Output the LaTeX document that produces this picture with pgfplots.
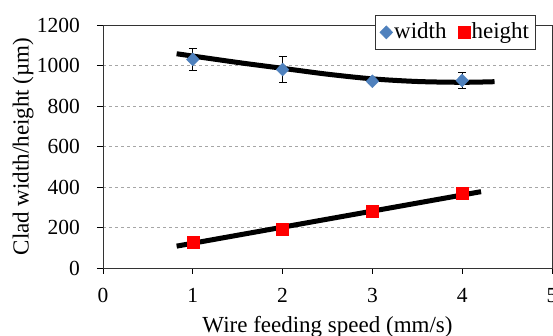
\documentclass[border=0pt]{standalone}
\usepackage{fontspec}
\setmainfont{Liberation Serif}
\usepackage{pgfplots}
\pgfplotsset{compat=1.18}
\definecolor{wblue}{RGB}{79,129,189}
\newcommand{\lf}{\fontsize{23pt}{27pt}\selectfont}
\pgfplotsset{mylegend/.style={legend image code/.code={\draw[##1] plot coordinates {(0pt,0pt)};}}}
\begin{document}
\fontsize{21pt}{25pt}\selectfont
\begin{tikzpicture}
\begin{axis}[name=ax,
  scale only axis, width=449pt, height=243pt,
  xmin=0, xmax=5, ymin=0, ymax=1200,
  xtick={0,1,2,3,4,5}, ytick={0,200,400,600,800,1000,1200},
  /pgf/number format/assume math mode=true,
  /pgf/number format/1000 sep={},
  tick label style={font=\fontsize{21.5pt}{25pt}\selectfont},
  axis line style={black!80, line width=0.8pt},
  tick style={black, line width=0.8pt},
  xtick align=outside, ytick align=outside,
  major tick length=6pt,
  xtick pos=bottom, ytick pos=left,
  ymajorgrids, grid style={dashed, gray!70, line width=0.6pt},
  xticklabel style={yshift=-7pt},
  yticklabel style={xshift=-10pt},
  xlabel={\lf Wire feeding speed (mm/s)},
  ylabel={\lf Clad width/height (µm)},
  every axis x label/.style={at={(axis description cs:0.5,0)}, yshift=-65pt, anchor=base},
  every axis y label/.style={at={(axis description cs:-0.178,0.5)}, rotate=90, anchor=center},
  legend columns=2,
  legend style={at={(axis description cs:0.964,1.041)}, anchor=north east,
    draw=black!80, line width=0.6pt, fill=white,
    inner xsep=5pt, inner ysep=6.5pt,
    nodes={inner xsep=1.5pt, inner ysep=1pt}},
  legend cell align=left,
]
\addplot[only marks, mark=diamond*, mark size=6.5pt, mark options={xscale=1.3}, color=wblue, mylegend,
  error bars/.cd, y dir=both, y explicit, error bar style={black, line width=0.7pt},
  error mark options={rotate=90, mark size=4pt, black, line width=0.7pt, xscale=1}]
  coordinates {(1,1030) +- (0,56) (2,980) +- (0,64) (3,922) +- (0,10) (4,926) +- (0,38)};
\addlegendentry{\lf width\rule{10pt}{0pt}}
\addplot[only marks, mark=square*, mark size=6pt, color=red, mylegend]
  coordinates {(1,127) (2,193) (3,281) (4,370)};
\addlegendentry{\lf height}
\addplot[black, line width=5pt, smooth, forget plot]
  coordinates {(0.82,1058) (1.5,1015) (2,986) (2.5,957) (3,934) (3.5,921) (4,917) (4.36,920)};
\addplot[black, line width=5pt, forget plot]
  coordinates {(0.82,108) (4.21,377)};
\end{axis}
\pgfresetboundingbox
\path[use as bounding box] (ax.south west) ++(-103pt,-68pt) rectangle ++(553pt,336pt);
\end{tikzpicture}
\end{document}
